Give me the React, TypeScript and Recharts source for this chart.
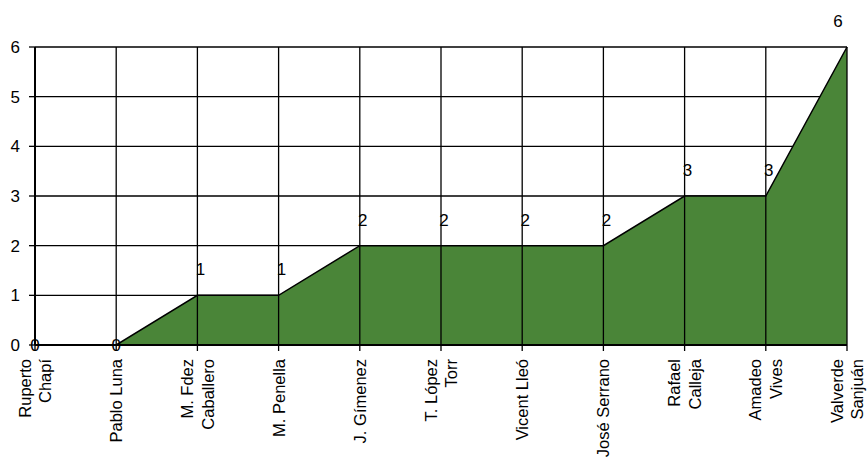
import { AreaChart, Area, XAxis, YAxis, CartesianGrid, ReferenceLine, LabelList } from 'recharts'

const composers = [
  'Ruperto\nChapí',
  'Pablo Luna',
  'M. Fdez\nCaballero',
  'M. Penella',
  'J. Gímenez',
  'T. López\nTorr',
  'Vicent Lleó',
  'José Serrano',
  'Rafael\nCalleja',
  'Amadeo\nVives',
  'Valverde\nSanjuán'
]
const counts = [0, 0, 1, 1, 2, 2, 2, 2, 3, 3, 6]
const yTicks = [0, 1, 2, 3, 4, 5, 6]

const data = composers.map((name, i) => ({ name, value: counts[i] }))

const FONT = '"Liberation Sans", Arial, sans-serif'

const NameTick = (props: any) => {
  const { x, y, payload } = props
  const lines = String(payload.value).split('\n')
  const lh = 1.25
  const first = 0.36 - ((lines.length - 1) * lh) / 2
  return (
    <g transform={`translate(${x},${y + 8}) rotate(-90)`}>
      <text textAnchor="end" fontSize={16.5} fontFamily={FONT} fill="#000">
        {lines.map((ln, i) => (
          <tspan key={i} x={0} dy={i === 0 ? `${first}em` : `${lh}em`}>
            {ln}
          </tspan>
        ))}
      </text>
    </g>
  )
}

const ValueLabel = (props: any) => {
  const { x, y, value, index } = props
  const last = index === counts.length - 1
  const dx = value === 0 ? 0 : last ? -9 : 3
  const cy = value === 0 ? y : y - 26
  return (
    <text x={x + dx} y={cy} dy="0.36em" textAnchor="middle" fontSize={17} fontFamily={FONT} fill="#000">
      {value}
    </text>
  )
}

export default function App() {
  return (
    <div style={{ position: 'absolute', left: 0, top: 0, background: '#fff' }}>
      <AreaChart
        width={867}
        height={459}
        data={data}
        margin={{ top: 47, right: 20, bottom: 0, left: 0 }}
      >
        <CartesianGrid vertical={false} stroke="#000" strokeWidth={1.3} />
        <XAxis
          dataKey="name"
          height={114}
          interval={0}
          tick={<NameTick />}
          tickSize={6}
          tickMargin={0}
          stroke="#000"
          strokeWidth={2}
          tickLine={{ stroke: '#000', strokeWidth: 1.3 }}
        />
        <YAxis
          width={35}
          domain={[0, 6]}
          ticks={yTicks}
          interval={0}
          tickSize={6}
          tickMargin={9}
          stroke="#000"
          strokeWidth={2}
          tickLine={{ stroke: '#000', strokeWidth: 1.3 }}
          tick={{ fill: '#000', fontSize: 17, fontFamily: FONT }}
        />
        <Area
          type="linear"
          dataKey="value"
          stroke="#000"
          strokeWidth={1.5}
          fill="#4a8538"
          fillOpacity={1}
          isAnimationActive={false}
          dot={false}
          activeDot={false}
        >
          <LabelList dataKey="value" content={<ValueLabel />} />
        </Area>
        {composers.map((c) => (
          <ReferenceLine key={c} x={c} stroke="#000" strokeWidth={1.3} />
        ))}
      </AreaChart>
    </div>
  )
}
